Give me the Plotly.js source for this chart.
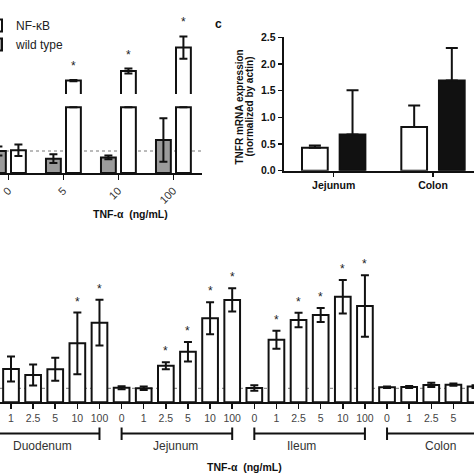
<!DOCTYPE html>
<html><head><meta charset="utf-8">
<script src="https://cdn.plot.ly/plotly-3.0.1.min.js"></script>
<style>
html,body{margin:0;padding:0;overflow:hidden;background:#fff;width:474px;height:474px;position:relative}
#plot{position:absolute;left:-30px;top:0;width:534px;height:474px}
</style>
</head><body><div id="plot"></div>
<script>
// ---- Panel (top-left): NF-κB reporter vs wild type, TNF-α dose ----
const doseTop = ['0', '5', '10', '100'];
const nfkbVals = [1.03, 16.7, 21.5, 33.2];
const nfkbErr  = [0.26, 0.3, 1.2, 5.6];
const wtVals   = [1.0, 0.65, 0.71, 1.5];
const wtErr    = [0.2, 0.2, 0.09, 0.99];
const nfkbSig  = [false, true, true, true];

// ---- Panel c: TNFR mRNA expression ----
const tissuesC   = ['Jejunum', 'Colon'];
const whiteC     = [0.43, 0.82];
const whiteCErr  = [0.04, 0.40];
const blackC     = [0.68, 1.69];
const blackCErr  = [0.83, 0.61];

// ---- Bottom panel: intestinal segments x TNF-α dose ----
const segments = ['Duodenum', 'Jejunum', 'Ileum', 'Colon'];
const doses    = ['0', '1', '2.5', '5', '10', '100'];
const duoVals = [1.0, 2.38, 1.95, 2.36, 4.21, 5.69];
const duoErr  = [0.2, 0.9, 0.75, 0.82, 2.2, 1.63];
const jejVals = [1.04, 1.0, 2.61, 3.61, 6.0, 7.31];
const jejErr  = [0.1, 0.12, 0.25, 0.7, 1.14, 0.83];
const ileVals = [1.02, 4.47, 5.88, 6.24, 7.54, 6.88];
const ileErr  = [0.2, 0.64, 0.52, 0.5, 1.2, 2.2];
const colVals = [1.07, 1.1, 1.24, 1.26, 1.12, 1.1];
const colErr  = [0.05, 0.07, 0.15, 0.08, 0.1, 0.1];
const duoSig = [0, 0, 0, 0, 1, 1];
const jejSig = [0, 0, 1, 1, 1, 1];
const ileSig = [0, 1, 1, 1, 1, 1];
const colSig = [0, 0, 0, 0, 0, 0];

// ---- geometry helpers (page px -> paper) ----
const OX = 30, W = 534, H = 474;
const fx = p => (p + OX) / W;
const fy = p => 1 - p / H;
const FONT = 'Liberation Sans, Arial, sans-serif';

const LOW_MAX = 67 / 22;   // lower segment of the broken axis
const HIGH_MIN = 10;       // upper segment of the broken axis
const segLabelShift = [-2, -1, -8, -2];

const idxTop = doseTop.map((d, i) => i);
const idxC = tissuesC.map((d, i) => i);
const botVals = [].concat(duoVals, jejVals, ileVals, colVals);
const botErr = [].concat(duoErr, jejErr, ileErr, colErr);
const botSig = [].concat(duoSig, jejSig, ileSig, colSig);
const botIdx = botVals.map((v, i) => i);
const botTicks = [].concat(doses, doses, doses, doses);

// lower segment of the broken axis: bars that continue above it stop at the break
const nfkbLow = nfkbVals.map(v => Math.min(v, LOW_MAX * 0.98));
const nfkbLowErr = nfkbVals.map((v, i) => v > LOW_MAX ? 0 : nfkbErr[i]);

const barLine = {color: '#111', width: 2};
const eb = (arr, w) => ({type: 'data', array: arr, visible: true, color: '#111', thickness: 2, width: w});

const traces = [
  {type: 'bar', name: 'NF-κB', x: idxTop, y: nfkbLow, xaxis: 'x', yaxis: 'y',
   offset: 0.049, width: 0.27, marker: {color: '#ffffff', line: barLine},
   error_y: eb(nfkbLowErr, 4), legendgroup: 'nf', showlegend: true},
  {type: 'bar', name: 'wild type', x: idxTop, y: wtVals, xaxis: 'x', yaxis: 'y',
   offset: -0.315, width: 0.27, marker: {color: '#9b9b9b', line: barLine},
   error_y: eb(wtErr, 4), legendgroup: 'wt', showlegend: true},
  {type: 'bar', name: 'NF-κB', x: idxTop, y: nfkbVals, xaxis: 'x', yaxis: 'y2',
   offset: 0.049, width: 0.27, marker: {color: '#ffffff', line: barLine},
   error_y: eb(nfkbErr, 4), legendgroup: 'nf', showlegend: false},
  {type: 'bar', name: 'open', x: idxC, y: whiteC, xaxis: 'x3', yaxis: 'y3',
   offset: -0.319, width: 0.259, marker: {color: '#ffffff', line: barLine},
   error_y: {type: 'data', symmetric: false, array: whiteCErr, arrayminus: whiteC.map(() => 0), color: '#111', thickness: 2, width: 6},
   showlegend: false},
  {type: 'bar', name: 'filled', x: idxC, y: blackC, xaxis: 'x3', yaxis: 'y3',
   offset: 0.06, width: 0.259, marker: {color: '#111111', line: barLine},
   error_y: {type: 'data', symmetric: false, array: blackCErr, arrayminus: blackC.map(() => 0), color: '#111', thickness: 2, width: 6},
   showlegend: false},
  {type: 'bar', name: 'segments', x: botIdx, y: botVals, xaxis: 'x4', yaxis: 'y4',
   width: 0.71, marker: {color: '#ffffff', line: barLine},
   error_y: eb(botErr, 4), showlegend: false}
];

const annotations = [];
annotations.push({text: '<b>c</b>', xref: 'paper', yref: 'paper', x: fx(218), y: fy(15),
  showarrow: false, font: {family: FONT, size: 12, color: '#111'}});
idxTop.forEach(i => {
  if (nfkbSig[i]) annotations.push({text: '*', xref: 'x', yref: 'y2', x: i + 0.184,
    y: nfkbVals[i] + nfkbErr[i], yanchor: 'middle', yshift: 14, showarrow: false,
    font: {family: FONT, size: 12, color: '#222'}});
});
botIdx.forEach(i => {
  if (botSig[i]) annotations.push({text: '*', xref: 'x4', yref: 'y4', x: i,
    y: botVals[i] + botErr[i], yanchor: 'middle', yshift: 11, showarrow: false,
    font: {family: FONT, size: 12, color: '#222'}});
});
segments.forEach((s, g) => {
  annotations.push({text: s, xref: 'x4', yref: 'paper', x: g * doses.length + (doses.length - 1) / 2,
    xshift: segLabelShift[g], y: fy(446), yanchor: 'middle', showarrow: false,
    font: {family: FONT, size: 12, color: '#333'}});
});
annotations.push({text: '<b>TNF-α  (ng/mL)</b>', xref: 'paper', yref: 'paper', x: fx(91), y: fy(214),
  yanchor: 'middle', showarrow: false, font: {family: FONT, size: 10.5, color: '#111'}});
annotations.push({text: '<b>TNF-α  (ng/mL)</b>', xref: 'paper', yref: 'paper', x: fx(244), y: fy(467),
  yanchor: 'middle', showarrow: false, font: {family: FONT, size: 10.5, color: '#111'}});
annotations.push({text: '<b>TNFR mRNA expression</b>', xref: 'paper', yref: 'paper', x: fx(238.5), y: fy(107),
  textangle: -90, xanchor: 'center', yanchor: 'middle', showarrow: false, font: {family: FONT, size: 10, color: '#111'}});
annotations.push({text: '<b>(normalized by actin)</b>', xref: 'paper', yref: 'paper', x: fx(248.5), y: fy(107),
  textangle: -90, xanchor: 'center', yanchor: 'middle', showarrow: false, font: {family: FONT, size: 10, color: '#111'}});

const shapes = [
  {type: 'line', xref: 'paper', yref: 'y', x0: 0, x1: fx(202), y0: 1, y1: 1, layer: 'below',
   line: {color: '#777', width: 1, dash: 'dot'}},
  {type: 'line', xref: 'paper', yref: 'y4', x0: fx(0), x1: fx(474), y0: 1, y1: 1, layer: 'below',
   line: {color: '#777', width: 1, dash: 'dot'}}
];
segments.forEach((s, g) => {
  const a = g * doses.length, b = a + doses.length - 1;
  shapes.push({type: 'line', xref: 'x4', yref: 'paper', x0: a, x1: b, y0: fy(433.5), y1: fy(433.5), line: {color: '#111', width: 2}});
  shapes.push({type: 'line', xref: 'x4', yref: 'paper', x0: a, x1: a, y0: fy(427.5), y1: fy(440), line: {color: '#111', width: 2}});
  shapes.push({type: 'line', xref: 'x4', yref: 'paper', x0: b, x1: b, y0: fy(427.5), y1: fy(440), line: {color: '#111', width: 2}});
});

const topUnit = 55, topC0 = 8.3;
const cUnit = 99.3, cStart = -50 / 99.3;
const bUnit = 22.12, bOff = -11.12;

const layout = {
  width: W, height: H, margin: {l: 0, r: 0, t: 0, b: 0},
  paper_bgcolor: '#fff', plot_bgcolor: 'rgba(0,0,0,0)',
  font: {family: FONT, color: '#222'},
  barmode: 'overlay',
  showlegend: true,
  legend: {x: fx(-24), y: fy(11), xanchor: 'left', yanchor: 'top', bgcolor: 'rgba(0,0,0,0)',
    font: {family: FONT, size: 12, color: '#222'}, itemclick: false, traceorder: 'normal'},
  xaxis: {domain: [0, fx(202)], range: [(-OX - topC0) / topUnit, (202 - topC0) / topUnit],
    anchor: 'y', tickmode: 'array', tickvals: idxTop, ticktext: doseTop, tickangle: -45,
    showline: true, linecolor: '#111', linewidth: 2, ticks: 'outside', ticklen: 5, tickwidth: 1.5, tickcolor: '#111',
    showgrid: false, zeroline: false, tickfont: {family: FONT, size: 11, color: '#333'}},
  yaxis: {domain: [fy(173), fy(106)], range: [0, LOW_MAX], anchor: 'x', visible: false, showgrid: false, zeroline: false},
  yaxis2: {domain: [fy(94), 1], range: [HIGH_MIN, HIGH_MIN + 94 / 2], anchor: 'x', visible: false, showgrid: false, zeroline: false},
  xaxis3: {domain: [fx(283.7), 1], range: [cStart, cStart + (474 + OX - 283.7) / cUnit], anchor: 'y3',
    tickmode: 'array', tickvals: idxC, ticktext: tissuesC.map(t => '<b>' + t + '</b>'),
    showline: true, linecolor: '#111', linewidth: 2, ticks: 'outside', ticklen: 4, tickwidth: 1.5, tickcolor: '#111',
    showgrid: false, zeroline: false, tickfont: {family: FONT, size: 10.5, color: '#111'}},
  yaxis3: {domain: [fy(170.7), fy(37.3)], range: [0, 2.5], anchor: 'x3', tickmode: 'array',
    tickvals: [0, 0.5, 1, 1.5, 2, 2.5], ticktext: ['<b>0.0</b>', '<b>0.5</b>', '<b>1.0</b>', '<b>1.5</b>', '<b>2.0</b>', '<b>2.5</b>'],
    showline: true, linecolor: '#111', linewidth: 2, ticks: 'outside', ticklen: 4, tickwidth: 1.5, tickcolor: '#111',
    showgrid: false, zeroline: false, tickfont: {family: FONT, size: 10.5, color: '#111'}},
  xaxis4: {domain: [fx(0), fx(474)], range: [(0 - bOff) / bUnit, (474 - bOff) / bUnit], anchor: 'y4',
    tickmode: 'array', tickvals: botIdx, ticktext: botTicks,
    showline: true, linecolor: '#111', linewidth: 2, ticks: 'outside', ticklen: 5, tickwidth: 1.5, tickcolor: '#111',
    showgrid: false, zeroline: false, tickfont: {family: FONT, size: 10.5, color: '#444'}},
  yaxis4: {domain: [fy(402.3), fy(240)], range: [0, (402.3 - 240) / 14], anchor: 'x4', visible: false, showgrid: false, zeroline: false},
  annotations: annotations,
  shapes: shapes
};

Plotly.newPlot('plot', traces, layout, {staticPlot: true, displayModeBar: false});
</script>
</body></html>
